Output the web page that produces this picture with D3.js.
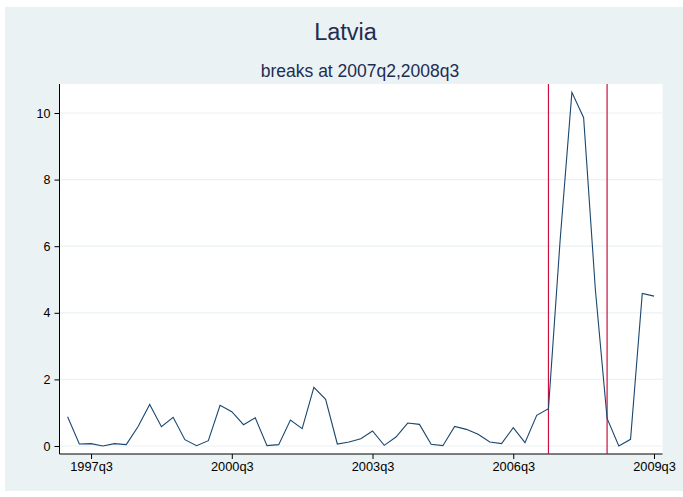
<!DOCTYPE html>
<html>
<head>
<meta charset="utf-8">
<script src="https://cdn.jsdelivr.net/npm/d3@7"></script>
<style>
  body { margin: 0; background: #ffffff; }
  text { font-family: "Liberation Sans", Arial, sans-serif; }
</style>
</head>
<body>
<div id="chart"></div>
<script>
var firstYear = 1997;
var values = [
  0.88, 0.06, 0.07, 0.00,   // 1997
  0.07, 0.04, 0.58, 1.25,   // 1998
  0.58, 0.86, 0.19, 0.01,   // 1999
  0.16, 1.22, 1.03, 0.64,   // 2000
  0.85, 0.01, 0.04, 0.78,   // 2001
  0.52, 1.76, 1.40, 0.06,   // 2002
  0.12, 0.22, 0.45, 0.02,   // 2003
  0.27, 0.69, 0.65, 0.05,   // 2004
  0.01, 0.59, 0.50, 0.35,   // 2005
  0.12, 0.07, 0.55, 0.10,   // 2006
  0.92, 1.12, 6.20, 10.62,  // 2007
  9.86, 4.70, 0.83, 0.00,   // 2008
  0.20, 4.58, 4.50          // 2009
];
var xTickLabels = ["1997q3", "2000q3", "2003q3", "2006q3", "2009q3"];
var yTicks = [0, 2, 4, 6, 8, 10];
var breaks = ["2007q2", "2008q3"];
var titleText = "Latvia";
var subtitleText = "breaks at 2007q2,2008q3";

// quarter label <-> index
var periods = values.map(function(v, i) {
  return (firstYear + Math.floor(i / 4)) + "q" + (i % 4 + 1);
});
var data = values.map(function(v, i) { return { q: periods[i], i: i, v: v }; });

var W = 683, H = 497;
var plot = { left: 59.5, right: 662.5, top: 84, bottom: 454 };

var svg = d3.select("#chart").append("svg")
  .attr("width", W)
  .attr("height", H);

// graph region
svg.append("rect")
  .attr("x", 5).attr("y", 7)
  .attr("width", W - 5).attr("height", 484)
  .attr("fill", "#eaf2f3");

// plot region
svg.append("rect")
  .attr("x", plot.left).attr("y", plot.top)
  .attr("width", plot.right - plot.left).attr("height", plot.bottom - plot.top)
  .attr("fill", "#ffffff");

var x = d3.scaleLinear().domain([0, 50]).range([67.6, 654]);
var y = d3.scaleLinear().domain([0, 10]).range([446, 113]);

// gridlines
svg.append("g").selectAll("line")
  .data(yTicks)
  .enter().append("line")
  .attr("x1", plot.left).attr("x2", plot.right)
  .attr("y1", function(d) { return y(d); })
  .attr("y2", function(d) { return y(d); })
  .attr("stroke", "#eaf2f3")
  .attr("stroke-width", 1.2);

// y axis
var yAxis = svg.append("g")
  .attr("transform", "translate(" + plot.left + ",0)")
  .call(d3.axisLeft(y).tickValues(yTicks).tickSize(5).tickPadding(4));
yAxis.select(".domain").attr("d", "M0," + plot.top + "V" + plot.bottom).attr("stroke", "#000");
yAxis.selectAll("text").attr("font-size", 12.5).attr("fill", "#000")
  .attr("font-family", "Liberation Sans, Arial, sans-serif");

// x axis
var xAxis = svg.append("g")
  .attr("transform", "translate(0," + plot.bottom + ")")
  .call(d3.axisBottom(x)
    .tickValues(xTickLabels.map(function(l) { return periods.indexOf(l); }))
    .tickFormat(function(d) { return periods[d]; })
    .tickSize(5).tickPadding(3));
xAxis.select(".domain").attr("d", "M" + plot.left + ",0H" + plot.right).attr("stroke", "#000");
xAxis.selectAll("text").attr("font-size", 12.8).attr("fill", "#000")
  .attr("font-family", "Liberation Sans, Arial, sans-serif");

// break lines
svg.append("g").selectAll("line")
  .data(breaks)
  .enter().append("line")
  .attr("x1", function(d) { return x(periods.indexOf(d)); })
  .attr("x2", function(d) { return x(periods.indexOf(d)); })
  .attr("y1", plot.top).attr("y2", plot.bottom)
  .attr("stroke", "#cc1040")
  .attr("stroke-width", 1.2);

// series
var line = d3.line()
  .x(function(d) { return x(d.i); })
  .y(function(d) { return y(d.v); });

svg.append("path")
  .datum(data)
  .attr("d", line)
  .attr("fill", "none")
  .attr("stroke", "#1a476f")
  .attr("stroke-width", 1.1);

// titles
svg.append("text")
  .attr("x", 345.5).attr("y", 39.5)
  .attr("text-anchor", "middle")
  .attr("font-size", 23.5)
  .attr("fill", "#1e2d53")
  .text(titleText);

svg.append("text")
  .attr("x", 360).attr("y", 76.5)
  .attr("text-anchor", "middle")
  .attr("font-size", 17.5)
  .attr("fill", "#1e2d53")
  .text(subtitleText);
</script>
</body>
</html>
